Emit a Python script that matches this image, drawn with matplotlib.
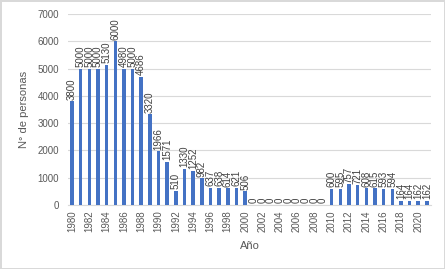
import matplotlib
matplotlib.use("Agg")
import matplotlib.pyplot as plt

years = list(range(1980, 2022))
values = [3800, 5000, 5000, 5000, 5130, 6000, 4980, 5000, 4686, 3320,
          1966, 1571, 510, 1330, 1252, 982, 637, 638, 614, 621,
          506, 0, 0, 0, 0, 0, 0, 0, 0, 0,
          600, 595, 757, 721, 608, 615, 593, 594, 164, 164,
          162, 162]
yticks = [0, 1000, 2000, 3000, 4000, 5000, 6000, 7000]

plt.rcParams['font.family'] = ['Liberation Sans', 'DejaVu Sans']
fig = plt.figure(figsize=(4.45, 2.69), dpi=100)
ax = fig.add_axes([0.152, 0.238, 0.817, 0.71])
x = list(range(len(years)))
ax.bar(x, values, width=0.4, color='#4472C4', zorder=3)
for xi, v in zip(x, values):
    ax.text(xi, v + 60, str(v), rotation=90, ha='center', va='bottom',
            fontsize=7, color='#404040')
ax.set_xlim(-0.5, len(years) - 0.5)
ax.set_ylim(0, 7000)
ax.set_yticks(yticks)
ax.tick_params(axis='y', length=0, labelsize=7, colors='#595959', pad=6)
ax.set_xticks([i for i, yr in enumerate(years) if yr % 2 == 0])
ax.set_xticklabels([str(yr) for yr in years if yr % 2 == 0], rotation=90, fontsize=7, color='#595959')
ax.tick_params(axis='x', length=0, pad=4)
ax.grid(axis='y', color='#D9D9D9', linewidth=0.8, zorder=0)
for s in ['top', 'right', 'left']:
    ax.spines[s].set_visible(False)
ax.spines['bottom'].set_color('#D9D9D9')
ax.set_xlabel('Año', fontsize=8, color='#595959', labelpad=6)
ax.set_ylabel('N° de personas', fontsize=8, color='#595959', labelpad=6)
fig.patch.set_edgecolor('#D9D9D9')
fig.patch.set_linewidth(1)
fig.savefig('out.png', dpi=100, edgecolor=fig.get_edgecolor())
